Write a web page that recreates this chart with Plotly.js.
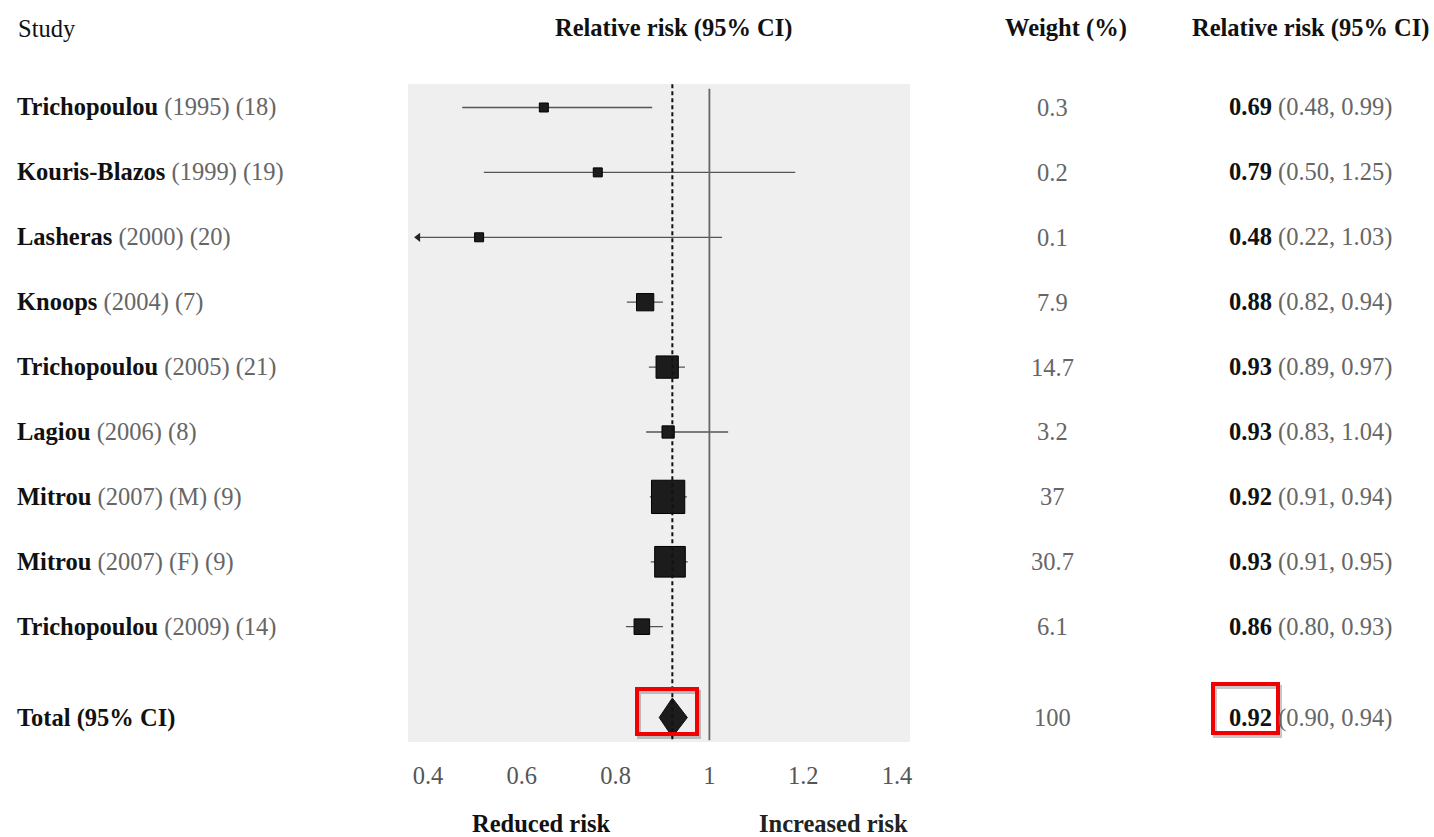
<!DOCTYPE html>
<html>
<head>
<meta charset="utf-8">
<script src="https://cdn.plot.ly/plotly-3.0.1.min.js"></script>
<style>html,body{margin:0;padding:0;background:#fff;}#chart{width:1434px;height:837px;}</style>
</head>
<body>
<div id="chart"></div>
<script>
// ---- data ----
const studyNames = ['Trichopoulou','Kouris-Blazos','Lasheras','Knoops','Trichopoulou','Lagiou','Mitrou','Mitrou','Trichopoulou'];
const studyDetails = ['(1995) (18)','(1999) (19)','(2000) (20)','(2004) (7)','(2005) (21)','(2006) (8)','(2007) (M) (9)','(2007) (F) (9)','(2009) (14)'];
const weights = ['0.3','0.2','0.1','7.9','14.7','3.2','37','30.7','6.1'];
const rrText = ['0.69','0.79','0.48','0.88','0.93','0.93','0.92','0.93','0.86'];
const ciText = ['(0.48, 0.99)','(0.50, 1.25)','(0.22, 1.03)','(0.82, 0.94)','(0.89, 0.97)','(0.83, 1.04)','(0.91, 0.94)','(0.91, 0.95)','(0.80, 0.93)'];
// positions of the marks as drawn in the picture
const drawnEst = [0.647,0.762,0.509,0.863,0.910,0.912,0.912,0.916,0.856];
const drawnLo  = [0.473,0.519,0.379,0.824,0.871,0.865,0.873,0.875,0.822];
const drawnHi  = [0.878,1.183,1.027,0.901,0.948,1.040,0.952,0.954,0.901];
const loClipped = [false,false,true,false,false,false,false,false,false];
const totalLabel = 'Total (95% CI)';
const totalWeight = '100';
const totalRR = '0.92';
const totalCI = '(0.90, 0.94)';
const totalEst = 0.921, totalLo = 0.893, totalHi = 0.953;
const tickVals = [0.4,0.6,0.8,1,1.2,1.4];
const tickText = ['0.4','0.6','0.8','1','1.2','1.4'];

// ---- layout helpers ----
const W = 1434, H = 837;
const px = x => x / W;
const py = y => 1 - y / H;
const FONT = 'Liberation Serif, Times New Roman, serif';
const GRAY = '#666';
const FS = 24.5;
const rows = studyNames.map((_, i) => i);
const totalRow = 9.4;

const markerSizes = weights.map(w => Math.max(9, 4.9 * Math.sqrt(parseFloat(w)) + 3.5));

const traces = [];
traces.push({
  type: 'scatter', mode: 'markers',
  x: drawnEst, y: rows,
  marker: {symbol: 'square', size: markerSizes, opacity: 1, color: '#1c1c1c', line: {color: '#000', width: 1}},
  error_x: {
    type: 'data', symmetric: false,
    array: drawnHi.map((h, i) => h - drawnEst[i]),
    arrayminus: drawnLo.map((l, i) => drawnEst[i] - l),
    width: 0, thickness: 1.3, color: '#555'
  },
  hoverinfo: 'skip', showlegend: false
});
// arrow for CI running off the scale
const arrX = [], arrY = [];
loClipped.forEach((c, i) => { if (c) { arrX.push(drawnLo[i]); arrY.push(rows[i]); } });
traces.push({
  type: 'scatter', mode: 'markers', x: arrX, y: arrY,
  marker: {symbol: 'triangle-left', size: 8, color: '#222', opacity: 1},
  hoverinfo: 'skip', showlegend: false
});
// pooled diamond
const dh = 0.3;
traces.push({
  type: 'scatter', mode: 'lines', fill: 'toself',
  x: [totalLo, totalEst, totalHi, totalEst, totalLo],
  y: [totalRow, totalRow - dh, totalRow, totalRow + dh, totalRow],
  line: {color: '#111', width: 1}, fillcolor: '#1c1c1c',
  hoverinfo: 'skip', showlegend: false
});

const ann = [];
function A(o) { ann.push(Object.assign({showarrow: false, font: {family: FONT, size: FS, color: '#111'}}, o)); }

// headers
A({xref: 'paper', yref: 'paper', x: px(16), y: py(28), xanchor: 'left', yanchor: 'middle', text: 'Study'});
A({xref: 'paper', yref: 'paper', x: px(673), y: py(28), xanchor: 'center', yanchor: 'middle', text: '<b>Relative risk (95% CI)</b>'});
A({xref: 'paper', yref: 'paper', x: px(1066), y: py(28), xanchor: 'center', yanchor: 'middle', text: '<b>Weight (%)</b>'});
A({xref: 'paper', yref: 'paper', x: px(1310), y: py(28), xanchor: 'center', yanchor: 'middle', text: '<b>Relative risk (95% CI)</b>'});

// rows
studyNames.forEach((n, i) => {
  A({xref: 'paper', yref: 'y', x: px(15), y: rows[i], xanchor: 'left', yanchor: 'middle',
     text: '<b>' + n + '</b> <span style="color:' + GRAY + '">' + studyDetails[i] + '</span>'});
  A({xref: 'paper', yref: 'y', x: px(1052), y: rows[i], xanchor: 'center', yanchor: 'middle',
     text: weights[i], font: {family: FONT, size: FS, color: GRAY}});
  A({xref: 'paper', yref: 'y', x: px(1310), y: rows[i], xanchor: 'center', yanchor: 'middle',
     text: '<b>' + rrText[i] + '</b> <span style="color:' + GRAY + '">' + ciText[i] + '</span>'});
});
A({xref: 'paper', yref: 'y', x: px(15), y: totalRow, xanchor: 'left', yanchor: 'middle', text: '<b>' + totalLabel + '</b>'});
A({xref: 'paper', yref: 'y', x: px(1052), y: totalRow, xanchor: 'center', yanchor: 'middle', text: totalWeight, font: {family: FONT, size: FS, color: GRAY}});
A({xref: 'paper', yref: 'y', x: px(1310), y: totalRow, xanchor: 'center', yanchor: 'middle',
   text: '<b>' + totalRR + '</b> <span style="color:' + GRAY + '">' + totalCI + '</span>'});

// footer
A({xref: 'paper', yref: 'paper', x: px(541), y: py(823), xanchor: 'center', yanchor: 'middle', text: '<b>Reduced risk</b>'});
A({xref: 'paper', yref: 'paper', x: px(833), y: py(823), xanchor: 'center', yanchor: 'middle', text: '<b>Increased risk</b>', font: {family: FONT, size: FS, color: '#222'}});

// shapes
const shapes = [
  {type: 'line', xref: 'x', yref: 'y', x0: 1, x1: 1, y0: -0.29, y1: 9.75, line: {color: '#666', width: 1.8}},
  {type: 'line', xref: 'x', yref: 'y', x0: totalEst, x1: totalEst, y0: -0.36, y1: 9.77, line: {color: '#111', width: 2, dash: '4px,3px'}},
];
function redBox(x0, y0, x1, y1) {
  shapes.push({type: 'rect', xref: 'paper', yref: 'paper', x0: px(x0 + 2), x1: px(x1 + 2), y0: py(y1 + 3), y1: py(y0 + 3),
               line: {color: 'rgba(0,0,0,0.22)', width: 4}});
  shapes.push({type: 'rect', xref: 'paper', yref: 'paper', x0: px(x0), x1: px(x1), y0: py(y1), y1: py(y0),
               line: {color: '#f00000', width: 4}});
}
redBox(637, 689, 697, 734);
redBox(1213, 684, 1278, 733);

const layout = {
  width: W, height: H,
  margin: {l: 0, r: 0, t: 0, b: 0},
  paper_bgcolor: '#fff', plot_bgcolor: '#efefef',
  xaxis: {
    domain: [px(408), px(910)], range: [0.3574, 1.4277],
    tickvals: tickVals, ticktext: tickText,
    tickfont: {family: FONT, size: FS, color: '#555'},
    ticks: 'outside', ticklen: 12, tickcolor: 'rgba(0,0,0,0)',
    showgrid: false, zeroline: false, showline: false, fixedrange: true
  },
  yaxis: {
    domain: [1 - 742 / H, 1 - 84 / H], range: [9.777, -0.362],
    showgrid: false, zeroline: false, showline: false, showticklabels: false, ticks: '', fixedrange: true
  },
  annotations: ann, shapes: shapes, showlegend: false,
  font: {family: FONT}
};
Plotly.newPlot('chart', traces, layout, {displayModeBar: false, staticPlot: true});
</script>
</body>
</html>
